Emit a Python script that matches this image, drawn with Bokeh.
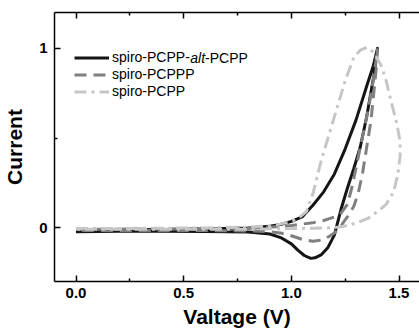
from bokeh.plotting import figure
from bokeh.models import Range1d, FixedTicker, LinearAxis, Legend, LegendItem, Label
from bokeh.embed import file_html
from bokeh.resources import INLINE

# ---- data ----
x_ticks = [0.0, 0.5, 1.0, 1.5]
x_tick_labels = ["0.0", "0.5", "1.0", "1.5"]
x_minor = [0.25, 0.75, 1.25]
y_ticks = [0, 1]
y_tick_labels = ["0", "1"]
y_minor = [0.5]

series_names = ["spiro-PCPP-alt-PCPP", "spiro-PCPPP", "spiro-PCPP"]

alt_v = [0.0, 0.2, 0.4, 0.6, 0.8, 0.9, 0.95, 1.0, 1.05, 1.1, 1.15, 1.2, 1.25, 1.3, 1.35,
         1.38, 1.40, 1.385, 1.37, 1.35, 1.32, 1.29, 1.26, 1.23, 1.2, 1.17, 1.14, 1.11,
         1.09, 1.06, 1.03, 1.0, 0.95, 0.9, 0.8, 0.6, 0.4, 0.2, 0.0]
alt_i = [-0.015, -0.012, -0.01, -0.007, -0.002, 0.008, 0.018, 0.035, 0.06, 0.125, 0.2,
         0.3, 0.44, 0.6, 0.79, 0.9, 1.0, 0.86, 0.76, 0.62, 0.45, 0.33, 0.22, 0.1, -0.04,
         -0.11, -0.15, -0.168, -0.171, -0.155, -0.125, -0.09, -0.055, -0.035, -0.024,
         -0.021, -0.02, -0.02, -0.022]

pcppp_v = [0.0, 0.2, 0.4, 0.6, 0.8, 0.9, 1.0, 1.1, 1.15, 1.2, 1.23, 1.26, 1.28, 1.3, 1.32,
           1.34, 1.36, 1.38, 1.395, 1.40, 1.395, 1.385, 1.37, 1.35, 1.33, 1.31, 1.29,
           1.26, 1.23, 1.2, 1.15, 1.1, 1.05, 1.0, 0.95, 0.9, 0.8, 0.6, 0.4, 0.2, 0.0]
pcppp_i = [-0.01, -0.008, -0.007, -0.005, -0.002, 0.003, 0.012, 0.028, 0.04, 0.06, 0.08,
           0.13, 0.22, 0.33, 0.45, 0.56, 0.68, 0.82, 0.95, 1.0, 0.9, 0.78, 0.6, 0.45,
           0.3, 0.19, 0.12, 0.06, 0.01, -0.03, -0.068, -0.075, -0.065, -0.045, -0.03,
           -0.022, -0.018, -0.016, -0.015, -0.015, -0.016]

pcpp_v = [0.0, 0.2, 0.4, 0.6, 0.8, 0.9, 0.95, 1.0, 1.04, 1.07, 1.1, 1.14, 1.18, 1.22,
          1.25, 1.29, 1.32, 1.35, 1.38, 1.415, 1.44, 1.462, 1.49, 1.505, 1.505, 1.495,
          1.475, 1.44, 1.4, 1.36, 1.3, 1.25, 1.2, 1.1, 1.0, 0.9, 0.8, 0.6, 0.4, 0.2, 0.0]
pcpp_i = [-0.005, -0.004, -0.003, -0.001, 0.003, 0.01, 0.02, 0.035, 0.06, 0.09, 0.19,
          0.38, 0.54, 0.7, 0.82, 0.95, 0.99, 1.005, 0.98, 0.91, 0.82, 0.71, 0.58, 0.48,
          0.4, 0.3, 0.2, 0.13, 0.09, 0.055, 0.025, 0.01, 0.0, -0.003, -0.005, -0.006,
          -0.008, -0.008, -0.008, -0.008, -0.008]

FONT = "Liberation Sans"

p = figure(width=419, height=330, x_range=Range1d(-0.1, 1.595), y_range=Range1d(-0.3, 1.2),
           output_backend="svg", toolbar_location=None,
           min_border_left=52, min_border_right=0, min_border_top=12, min_border_bottom=49)
p.grid.visible = False
p.outline_line_color = None
p.background_fill_color = "white"
p.border_fill_color = "white"

rb = p.line(alt_v, alt_i, line_color="#151515", line_width=3, line_join="round")
rg = p.line(pcppp_v, pcppp_i, line_color="#808080", line_width=3, line_dash="12 7")
rl = p.line(pcpp_v, pcpp_i, line_color="#c6c6c6", line_width=3, line_dash="12 5 3 5")


def style_axis(ax, ticks, minor, labels):
    ax.ticker = FixedTicker(ticks=ticks, minor_ticks=minor)
    ax.major_label_overrides = {t: l for t, l in zip(ticks, labels)}
    ax.axis_line_color = "black"
    ax.axis_line_width = 1.5
    ax.major_tick_line_color = "black"
    ax.major_tick_line_width = 1.5
    ax.minor_tick_line_color = "black"
    ax.minor_tick_line_width = 1.5
    ax.major_tick_in = 6
    ax.major_tick_out = 0
    ax.minor_tick_in = 3
    ax.minor_tick_out = 0
    ax.major_label_text_font = FONT
    ax.major_label_text_font_style = "bold"
    ax.major_label_text_font_size = "15px"
    ax.major_label_text_color = "black"
    ax.axis_label_text_font = FONT
    ax.axis_label_text_font_style = "bold"
    ax.axis_label_text_font_size = "21px"
    ax.axis_label_text_color = "black"


xa = p.xaxis[0]
style_axis(xa, x_ticks, x_minor, x_tick_labels)
xa.axis_label = "Valtage (V)"
xa.major_label_standoff = 6
xa.axis_label_standoff = 4

ya = p.yaxis[0]
style_axis(ya, y_ticks, y_minor, y_tick_labels)
ya.axis_label = "Current"
ya.major_label_standoff = 7
ya.axis_label_standoff = 10

top = LinearAxis()
style_axis(top, x_ticks, x_minor, x_tick_labels)
top.major_label_text_color = None
top.major_label_standoff = 0
p.add_layout(top, "above")

legend = Legend(items=[LegendItem(label="spiro-PCPP-", renderers=[rb]),
                       LegendItem(label=series_names[1], renderers=[rg]),
                       LegendItem(label=series_names[2], renderers=[rl])],
                location=(20, 182), padding=0, margin=0, spacing=1,
                glyph_width=35, glyph_height=15, label_height=15, label_standoff=3,
                label_text_font=FONT, label_text_font_size="14px",
                label_text_color="black",
                border_line_color=None, background_fill_alpha=0)
p.add_layout(legend)

# rest of the first legend entry, with italic "alt"
parts = ["alt", "-PCPP"]
styles = ["italic", "normal"]
offsets = [135.8, 150.6]
for txt, st, ox in zip(parts, styles, offsets):
    p.add_layout(Label(x=ox, y=224, x_units="screen", y_units="screen", text=txt,
                       text_font=FONT, text_font_size="14px", text_font_style=st,
                       text_baseline="middle", text_align="left", text_color="black"))

open("out.html", "w").write(file_html(p, INLINE))
